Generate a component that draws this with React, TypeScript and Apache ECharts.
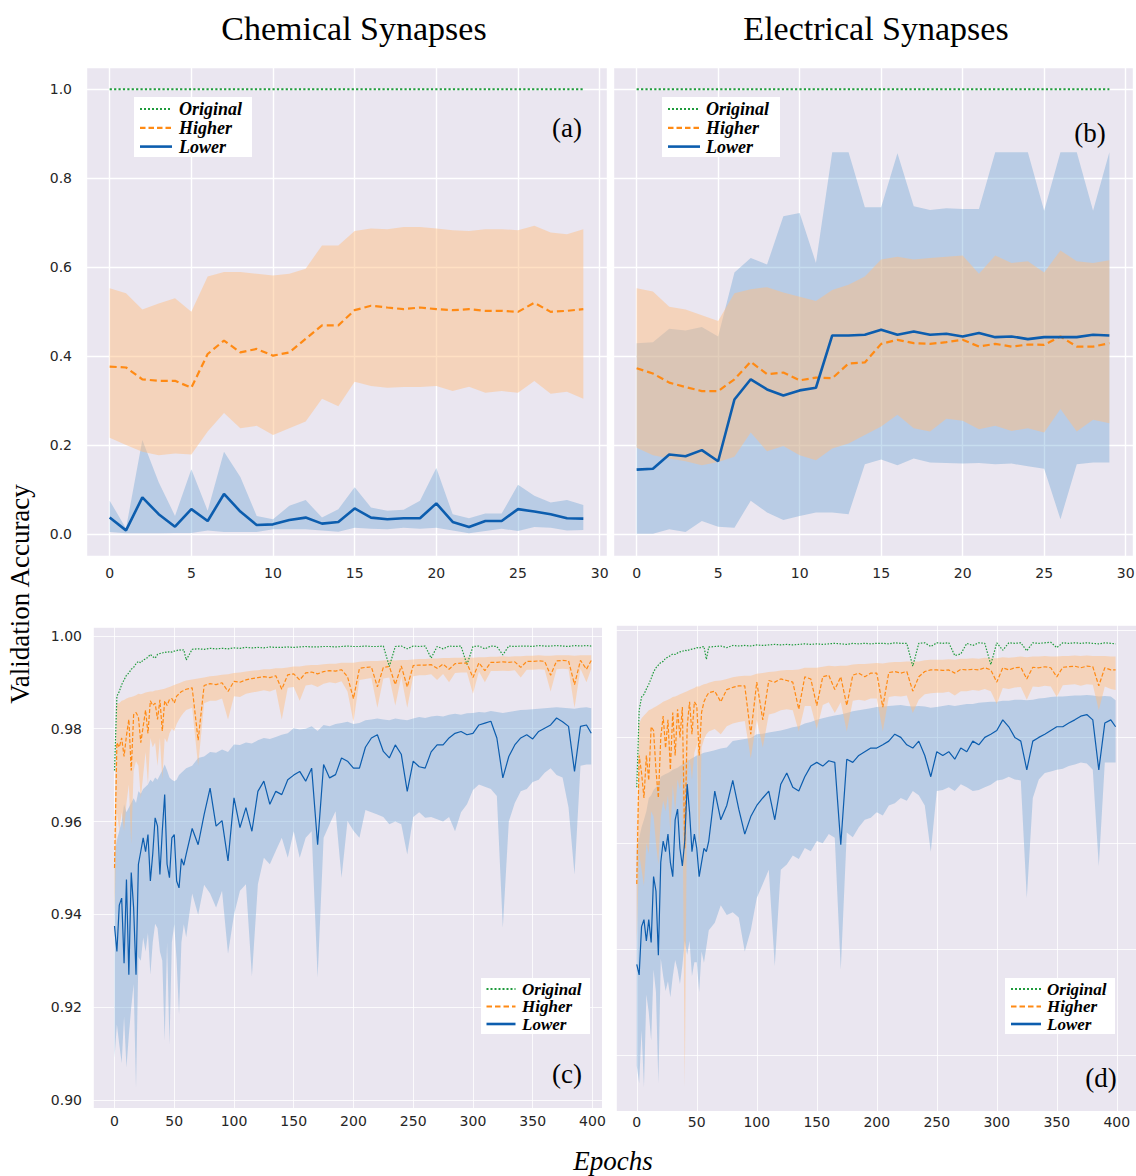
import React, { useEffect, useRef } from "react";
import * as echarts from "echarts";

// ---------- epochs ----------
const EPOCHS_S = [0,1,2,3,4,5,6,7,8,9,10,11,12,13,14,15,16,17,18,19,20,21,22,23,24,25,26,27,28,29];
const EPOCHS_L = [
  0,2,4,6,8,10,12,14,16,18,20,22,24,26,28,30,32,34,36,38,40,42,44,46,48,50,52,54,56,58,60,
  65,70,75,80,85,90,95,100,105,110,115,120,125,130,135,140,145,150,155,160,165,170,175,180,185,190,195,200,
  205,210,215,220,225,230,235,240,245,250,255,260,265,270,275,280,285,290,295,300,305,310,315,320,325,330,335,340,345,350,355,360,365,370,375,380,385,390,395,399,
];

// ---------- (a) Chemical synapses, 30 epochs ----------
const A_ORIG = [1.0,1.0,1.0,1.0,1.0,1.0,1.0,1.0,1.0,1.0,1.0,1.0,1.0,1.0,1.0,1.0,1.0,1.0,1.0,1.0,1.0,1.0,1.0,1.0,1.0,1.0,1.0,1.0,1.0,1.0];
const A_HI = [0.376,0.374,0.3475,0.344,0.344,0.3285,0.4044,0.4347,0.408,0.4158,0.4006,0.408,0.4386,0.4689,0.4689,0.503,0.5129,0.509,0.5053,0.509,0.5053,0.503,0.5053,0.5015,0.5015,0.4992,0.5197,0.4992,0.5015,0.5053];
const A_HI_UP = [0.5524,0.541,0.5046,0.518,0.5296,0.4992,0.579,0.5888,0.5888,0.585,0.581,0.585,0.5964,0.6487,0.6487,0.6813,0.6866,0.685,0.69,0.69,0.6866,0.6829,0.6813,0.685,0.685,0.6829,0.6927,0.6775,0.6737,0.685];
const A_HI_LO = [0.2162,0.1995,0.1844,0.1768,0.1806,0.1783,0.2299,0.2716,0.2375,0.2428,0.2223,0.2375,0.2527,0.3035,0.2868,0.3422,0.3323,0.3285,0.33,0.33,0.3323,0.321,0.3308,0.3171,0.321,0.3171,0.3437,0.3149,0.3194,0.3035];
const A_LO = [0.0364,0.0076,0.0819,0.044,0.0159,0.0554,0.0288,0.0895,0.05,0.0197,0.0212,0.0311,0.0364,0.0228,0.0266,0.0569,0.0364,0.0326,0.0349,0.0349,0.0683,0.0266,0.0152,0.0288,0.0288,0.0554,0.05,0.044,0.0349,0.0341];
const A_LO_UP = [0.0744,0.012,0.2109,0.1161,0.0402,0.1449,0.0516,0.1844,0.1275,0.0402,0.0326,0.063,0.0759,0.0364,0.0554,0.1047,0.0592,0.0516,0.0539,0.0744,0.148,0.044,0.0349,0.0455,0.0455,0.11,0.0857,0.0706,0.0759,0.0645];
const A_LO_LO = [0.004,0.001,0.001,0.001,0.002,0.002,0.0076,0.004,0.004,0.004,0.0099,0.0099,0.0099,0.0076,0.0046,0.0137,0.0114,0.0099,0.0137,0.0114,0.0137,0.0076,0.001,0.0061,0.0114,0.0061,0.0152,0.0137,0.0076,0.0084];

// ---------- (b) Electrical synapses, 30 epochs ----------
const B_ORIG = [1.0,1.0,1.0,1.0,1.0,1.0,1.0,1.0,1.0,1.0,1.0,1.0,1.0,1.0,1.0,1.0,1.0,1.0,1.0,1.0,1.0,1.0,1.0,1.0,1.0,1.0,1.0,1.0,1.0,1.0];
const B_HI = [0.3725,0.3604,0.34,0.33,0.321,0.321,0.3475,0.387,0.3589,0.3627,0.3452,0.3513,0.3498,0.3832,0.3854,0.4272,0.4363,0.4287,0.4272,0.431,0.4363,0.4211,0.4272,0.4211,0.4257,0.425,0.4439,0.4211,0.4211,0.4287];
const B_HI_UP = [0.5524,0.5448,0.5106,0.5046,0.4917,0.4788,0.541,0.5501,0.5546,0.5425,0.5334,0.5235,0.5486,0.56,0.5789,0.6169,0.6229,0.6169,0.6206,0.6229,0.626,0.585,0.626,0.6093,0.613,0.588,0.6373,0.613,0.6093,0.6153];
const B_HI_LO = [0.1935,0.1768,0.1692,0.1631,0.154,0.1616,0.173,0.2276,0.1859,0.1973,0.1768,0.1654,0.192,0.2033,0.2223,0.2413,0.2678,0.2375,0.2299,0.2587,0.2542,0.2352,0.2428,0.2314,0.2375,0.2276,0.2807,0.2299,0.2565,0.2489];
const B_LO = [0.1442,0.1464,0.1783,0.1745,0.1882,0.1631,0.302,0.3475,0.3247,0.3111,0.3225,0.3285,0.4461,0.4461,0.4477,0.459,0.4477,0.4552,0.4477,0.4499,0.4439,0.4515,0.4423,0.4439,0.4378,0.4423,0.4423,0.4423,0.4477,0.4461];
const B_LO_UP = [0.4287,0.431,0.4613,0.4575,0.4651,0.4439,0.588,0.6206,0.6055,0.714,0.7215,0.6093,0.8581,0.8581,0.7345,0.7345,0.8558,0.7367,0.7284,0.7322,0.7307,0.7307,0.8581,0.8581,0.8581,0.7269,0.8581,0.8581,0.7269,0.8581];
const B_LO_LO = [0.0,0.0,0.0099,0.004,0.0288,0.0159,0.0137,0.0744,0.0478,0.0311,0.0402,0.0478,0.0478,0.044,0.1563,0.1669,0.154,0.1692,0.1601,0.1593,0.1578,0.1593,0.1563,0.1578,0.1517,0.1464,0.0326,0.1563,0.1601,0.1601];

// ---------- (c) Chemical synapses, 400 epochs ----------
const C_ORIG = [
  0.971,0.987,0.988,0.9895,0.9905,0.9915,0.992,0.9928,0.9932,0.994,0.9945,0.9942,0.9948,0.995,0.9954,0.996,0.9955,0.9952,0.996,0.9962,0.9963,0.9965,0.9964,0.9966,0.9965,0.9967,0.9968,0.997,0.9969,0.997,0.9948,
  0.9971,0.9972,0.9971,0.9973,0.9972,0.9973,0.9972,0.9974,0.9973,0.9975,0.9974,0.9975,0.9974,0.9976,0.9975,0.9975,0.9976,0.9975,0.9976,0.9977,0.9976,0.9976,0.9977,0.9977,0.9976,0.9977,0.9978,0.9977,
  0.9977,0.9978,0.9977,0.9977,0.9978,0.9934,0.9977,0.9978,0.9972,0.9978,0.9977,0.9978,0.9952,0.9977,0.9972,0.9978,0.9977,0.9978,0.9938,0.9977,0.9978,0.9972,0.9978,0.9977,0.9959,0.9978,0.9977,0.9978,0.9978,0.9977,0.9979,0.9978,0.9978,0.9979,0.9978,0.9977,0.9979,0.9978,0.9979,0.9978,
];
const C_HI = [
  0.950,0.977,0.976,0.978,0.974,0.9785,0.982,0.971,0.983,0.9835,0.9825,0.977,0.9805,0.984,0.979,0.986,0.985,0.9855,0.982,0.9862,0.9795,0.986,0.985,0.9863,0.9865,0.9855,0.987,0.9875,0.988,0.9882,0.9885,
  0.9888,0.9775,0.9893,0.9897,0.9895,0.9899,0.988,0.9902,0.99,0.9905,0.9908,0.991,0.9912,0.991,0.9914,0.9885,0.9916,0.9918,0.9905,0.992,0.9922,0.9918,0.9923,0.9925,0.9924,0.9927,0.9912,0.9865,
  0.993,0.9932,0.9933,0.989,0.9932,0.9934,0.9895,0.9935,0.989,0.9936,0.9937,0.9937,0.9938,0.993,0.9939,0.9928,0.994,0.9941,0.9941,0.991,0.9942,0.9925,0.9943,0.9943,0.9944,0.9943,0.9944,0.9932,0.9945,0.9945,0.9946,0.9945,0.9915,0.9946,0.9947,0.9946,0.9895,0.9947,0.9928,0.9947,
];
const C_HI_UP = [
  0.958,0.9855,0.9855,0.986,0.9862,0.9865,0.9867,0.9868,0.987,0.9872,0.9875,0.9874,0.9876,0.9878,0.9879,0.988,0.988,0.9882,0.9883,0.9884,0.9885,0.9886,0.9888,0.989,0.9892,0.9894,0.9896,0.9898,0.99,0.9902,0.9904,
  0.9906,0.9908,0.991,0.9913,0.9914,0.9916,0.9917,0.992,0.9921,0.9923,0.9925,0.9926,0.9928,0.9928,0.993,0.993,0.9932,0.9934,0.9934,0.9936,0.9937,0.9937,0.9939,0.994,0.994,0.9942,0.9942,0.9942,
  0.9944,0.9945,0.9946,0.9946,0.9947,0.9948,0.9947,0.9948,0.9948,0.9949,0.995,0.995,0.9951,0.9951,0.9952,0.9952,0.9953,0.9953,0.9954,0.9953,0.9954,0.9954,0.9955,0.9955,0.9956,0.9955,0.9956,0.9956,0.9957,0.9957,0.9958,0.9957,0.9957,0.9958,0.9958,0.9958,0.9957,0.9958,0.9958,0.9958,
];
const C_HI_LO = [
  0.94,0.962,0.958,0.962,0.958,0.964,0.968,0.955,0.971,0.973,0.972,0.965,0.97,0.975,0.968,0.978,0.976,0.977,0.972,0.978,0.969,0.978,0.977,0.979,0.98,0.9795,0.981,0.982,0.9828,0.9835,0.984,
  0.9845,0.972,0.9855,0.986,0.986,0.9865,0.982,0.987,0.9868,0.9875,0.9878,0.988,0.9883,0.988,0.9885,0.982,0.9888,0.989,0.986,0.9893,0.9895,0.989,0.9897,0.99,0.9898,0.9902,0.988,0.9815,
  0.9905,0.9907,0.9909,0.9845,0.9908,0.991,0.985,0.9912,0.9845,0.9913,0.9915,0.9915,0.9917,0.9905,0.9918,0.99,0.992,0.9921,0.9921,0.9875,0.9923,0.99,0.9924,0.9924,0.9925,0.9924,0.9926,0.991,0.9927,0.9927,0.9928,0.9927,0.988,0.9928,0.9929,0.9928,0.9845,0.9929,0.99,0.9929,
];
const C_LO = [
  0.9375,0.932,0.942,0.9435,0.9295,0.9475,0.927,0.949,0.9414,0.927,0.9508,0.9536,0.9565,0.9535,0.9572,0.9472,0.953,0.9608,0.959,0.9486,0.958,0.9658,0.9508,0.9479,0.9565,0.9572,0.9472,0.9457,0.952,0.9506,0.953,
  0.9585,0.955,0.9615,0.9672,0.959,0.9602,0.9515,0.9651,0.9587,0.963,0.9579,0.9665,0.9687,0.9637,0.9665,0.9658,0.969,0.97,0.9708,0.9687,0.9715,0.955,0.9723,0.9694,0.9701,0.9737,0.973,0.9715,
  0.9715,0.976,0.978,0.9787,0.9751,0.9737,0.9765,0.9745,0.9665,0.973,0.9718,0.9715,0.975,0.9765,0.9765,0.978,0.979,0.9794,0.9787,0.979,0.9808,0.9812,0.9816,0.978,0.9694,0.974,0.9765,0.978,0.9787,0.9778,0.9794,0.9801,0.9808,0.9823,0.9815,0.9805,0.9708,0.9805,0.9808,0.979,
];
const C_LO_UP = [
  0.953,0.956,0.958,0.96,0.9637,0.962,0.963,0.964,0.965,0.964,0.9665,0.966,0.967,0.9675,0.968,0.969,0.9685,0.9695,0.969,0.97,0.971,0.9723,0.971,0.9695,0.969,0.9687,0.969,0.97,0.9705,0.971,0.9715,
  0.972,0.9737,0.974,0.975,0.9748,0.9755,0.975,0.9766,0.9765,0.977,0.9768,0.9775,0.978,0.9778,0.9782,0.9787,0.979,0.9801,0.9798,0.98,0.9805,0.9795,0.9808,0.9805,0.981,0.9812,0.9815,0.981,
  0.9812,0.9818,0.982,0.9822,0.982,0.9818,0.9822,0.982,0.9818,0.9822,0.9825,0.9823,0.9826,0.9828,0.9826,0.983,0.9832,0.983,0.9833,0.9834,0.9836,0.9835,0.9838,0.9836,0.9834,0.9836,0.9838,0.984,0.9841,0.9842,0.9843,0.9844,0.9845,0.9846,0.9845,0.9844,0.9843,0.9845,0.9846,0.9844,
];
const C_LO_LO = [
  0.9092,0.9163,0.912,0.908,0.918,0.907,0.914,0.92,0.925,0.9027,0.9308,0.93,0.935,0.932,0.936,0.927,0.934,0.938,0.937,0.932,0.93,0.9128,0.934,0.912,0.934,0.9379,0.93,0.9185,0.934,0.9379,0.9351,
  0.9445,0.9399,0.9464,0.9445,0.9415,0.9451,0.9315,0.9399,0.9451,0.9465,0.9267,0.9465,0.9522,0.9508,0.9537,0.9565,0.9522,0.9579,0.9522,0.9565,0.9579,0.9264,0.9565,0.9594,0.9622,0.9479,0.9601,0.958,
  0.9565,0.9625,0.962,0.9615,0.961,0.9594,0.96,0.9594,0.9529,0.961,0.962,0.9608,0.961,0.9605,0.96,0.961,0.9579,0.962,0.9637,0.9668,0.968,0.9675,0.967,0.9655,0.9371,0.96,0.964,0.9665,0.967,0.9685,0.969,0.9705,0.9715,0.970,0.9695,0.963,0.9486,0.972,0.9723,0.9723,
];

// ---------- (d) Electrical synapses, 400 epochs ----------
const D_ORIG = [
  0.9705,0.985,0.9875,0.988,0.989,0.9899,0.991,0.9922,0.993,0.9935,0.994,0.9942,0.9948,0.995,0.9953,0.9956,0.9955,0.9958,0.996,0.9961,0.9963,0.9962,0.9964,0.9965,0.9966,0.9968,0.9967,0.9969,0.997,0.9946,0.9969,
  0.997,0.9971,0.9968,0.9972,0.9971,0.9972,0.9971,0.9973,0.9972,0.9973,0.9974,0.9973,0.9974,0.9973,0.9974,0.9975,0.9974,0.9975,0.9974,0.9975,0.9976,0.9975,0.9974,0.9976,0.9975,0.9976,0.9975,0.9976,
  0.9976,0.9975,0.9977,0.9976,0.9976,0.9933,0.9976,0.9977,0.997,0.9977,0.9976,0.9977,0.9953,0.9956,0.9976,0.9972,0.9977,0.9976,0.9936,0.9977,0.9963,0.9977,0.9976,0.9977,0.9962,0.9977,0.9976,0.9977,0.9978,0.9968,0.9977,0.9976,0.9977,0.9976,0.9977,0.9976,0.9975,0.9977,0.9976,0.9975,
];
const D_HI = [
  0.9523,0.9765,0.9732,0.9685,0.9765,0.9718,0.9819,0.9812,0.9738,0.9685,0.9799,0.9839,0.9779,0.9832,0.9738,0.9846,0.9765,0.9852,0.9799,0.9856,0.959,0.9819,0.9866,0.9805,0.9866,0.9859,0.9765,0.9846,0.9866,0.9876,0.9883,
  0.9886,0.9866,0.9889,0.9893,0.9896,0.9896,0.9805,0.9903,0.9832,0.9906,0.9903,0.9909,0.9906,0.9903,0.9852,0.9913,0.9909,0.9859,0.9913,0.9916,0.9889,0.9913,0.9859,0.9916,0.992,0.9913,0.992,0.992,
  0.9856,0.9921,0.9923,0.992,0.9923,0.9886,0.9913,0.9923,0.9926,0.9926,0.9925,0.9926,0.992,0.9927,0.9926,0.9927,0.9926,0.993,0.9926,0.9903,0.993,0.9926,0.993,0.9931,0.9909,0.9931,0.993,0.9932,0.993,0.9913,0.9931,0.9932,0.9933,0.993,0.9933,0.9932,0.9896,0.993,0.9926,0.9926,
];
const D_HI_UP = [
  0.962,0.9825,0.9835,0.984,0.9845,0.985,0.9852,0.9855,0.9857,0.986,0.9863,0.9866,0.9868,0.987,0.9872,0.9875,0.9876,0.9878,0.988,0.9882,0.9884,0.9886,0.9888,0.989,0.9892,0.9895,0.9895,0.9897,0.9899,0.99,0.9902,
  0.9905,0.9906,0.9909,0.9912,0.9914,0.9915,0.9915,0.9919,0.992,0.9922,0.9923,0.9925,0.9926,0.9926,0.9927,0.993,0.993,0.993,0.9932,0.9934,0.9933,0.9934,0.9934,0.9936,0.9937,0.9937,0.9938,0.9939,
  0.9938,0.994,0.9941,0.9941,0.9942,0.9942,0.9942,0.9944,0.9945,0.9945,0.9945,0.9946,0.9945,0.9947,0.9947,0.9948,0.9947,0.9949,0.9948,0.9948,0.995,0.9949,0.995,0.9951,0.995,0.9951,0.9951,0.9952,0.9951,0.9951,0.9952,0.9952,0.9953,0.9952,0.9953,0.9952,0.9952,0.9952,0.9951,0.9951,
];
const D_HI_LO = [
  0.9416,0.958,0.955,0.952,0.96,0.958,0.966,0.965,0.96,0.956,0.965,0.968,0.966,0.969,0.962,0.971,0.966,0.972,0.97,0.973,0.914,0.972,0.976,0.972,0.977,0.9785,0.958,0.978,0.9795,0.9805,0.981,
  0.9815,0.9805,0.982,0.9825,0.9828,0.983,0.976,0.9832,0.978,0.9842,0.9845,0.985,0.9852,0.985,0.981,0.9858,0.9858,0.9815,0.986,0.9865,0.9845,0.9865,0.981,0.9868,0.987,0.9868,0.9872,0.9872,
  0.981,0.9875,0.9877,0.9876,0.9878,0.9845,0.987,0.988,0.9882,0.9883,0.9883,0.9885,0.9878,0.9886,0.9886,0.9888,0.9887,0.989,0.9886,0.9862,0.9892,0.989,0.9893,0.9894,0.987,0.9895,0.9894,0.9896,0.9895,0.9875,0.9897,0.9898,0.9899,0.9896,0.9899,0.9898,0.985,0.9895,0.989,0.9888,
];
const D_LO = [
  0.9372,0.9352,0.9443,0.9456,0.9416,0.9456,0.9413,0.9537,0.951,0.9389,0.9564,0.9604,0.9584,0.9617,0.9564,0.9537,0.9644,0.9664,0.959,0.9557,0.9604,0.9711,0.9658,0.9584,0.9617,0.959,0.9537,0.9564,0.959,0.9584,0.9604,
  0.9698,0.9644,0.9671,0.9718,0.9664,0.9617,0.965,0.9671,0.9685,0.9698,0.9644,0.9711,0.9732,0.9705,0.9698,0.9725,0.9745,0.9752,0.9745,0.9755,0.9752,0.9597,0.9758,0.9752,0.9765,0.9772,0.9779,0.9779,
  0.9785,0.9792,0.9805,0.9799,0.9785,0.9779,0.9792,0.9765,0.9725,0.9772,0.9765,0.9772,0.9758,0.9779,0.9772,0.9792,0.9785,0.9799,0.9805,0.9812,0.9832,0.9819,0.9799,0.9792,0.9738,0.9792,0.9799,0.9805,0.9812,0.9819,0.9819,0.9826,0.9832,0.9839,0.9842,0.9832,0.9738,0.9826,0.9832,0.9819,
];
const D_LO_UP = [
  0.959,0.961,0.963,0.9644,0.966,0.9685,0.969,0.970,0.9705,0.971,0.9725,0.9728,0.973,0.9732,0.9735,0.9738,0.974,0.9742,0.9745,0.9748,0.9752,0.9755,0.9757,0.976,0.9762,0.9765,0.9766,0.9768,0.977,0.9771,0.9772,
  0.9775,0.9778,0.978,0.9792,0.9794,0.9796,0.9798,0.9805,0.9806,0.9808,0.981,0.9812,0.9815,0.9818,0.982,0.9825,0.9828,0.9832,0.9835,0.9838,0.984,0.9842,0.9845,0.9848,0.985,0.9852,0.9854,0.9856,
  0.9857,0.9858,0.9859,0.986,0.9858,0.9857,0.9858,0.9857,0.9855,0.9856,0.9858,0.986,0.9858,0.986,0.9862,0.9862,0.9864,0.9865,0.9866,0.9866,0.9868,0.9868,0.987,0.987,0.9869,0.987,0.9872,0.9873,0.9875,0.9876,0.9876,0.9877,0.9878,0.9878,0.9879,0.9878,0.9876,0.9877,0.9876,0.9869,
];
const D_LO_LO = [
  0.9181,0.9148,0.9248,0.9141,0.9315,0.9282,0.9228,0.9362,0.932,0.9148,0.9383,0.935,0.9322,0.934,0.931,0.9349,0.938,0.9362,0.9335,0.937,0.9416,0.939,0.9416,0.935,0.9376,0.9376,0.932,0.9396,0.9375,0.9405,0.9436,
  0.945,0.9483,0.9465,0.947,0.946,0.9396,0.9436,0.9497,0.9523,0.955,0.9369,0.955,0.956,0.9577,0.957,0.9591,0.9585,0.9604,0.96,0.9617,0.961,0.9362,0.962,0.9611,0.963,0.9644,0.9648,0.9658,
  0.9652,0.9671,0.9675,0.9685,0.968,0.9698,0.969,0.9671,0.9584,0.9698,0.97,0.9705,0.9698,0.9711,0.9705,0.9698,0.97,0.9705,0.971,0.9718,0.972,0.9725,0.972,0.9718,0.9497,0.9685,0.972,0.9732,0.9735,0.9738,0.974,0.9745,0.9748,0.9752,0.975,0.9738,0.9557,0.9752,0.9752,0.9752,
];

const LEGEND_NAMES = ["Original", "Higher", "Lower"];
const COLUMN_TITLES = ["Chemical Synapses", "Electrical Synapses"];
const PANEL_TAGS = ["(a)", "(b)", "(c)", "(d)"];

// ---------- styles ----------
const C_GREEN = "#1f9b3c";
const C_ORANGE = "#ff8a14";
const C_BLUE = "#0c5dae";
const FILL_ORANGE = "rgba(255,190,130,0.48)";
const FILL_BLUE = "rgba(80,150,205,0.32)";
const BG = "#EAE6F0";
const TICK_FONT = '"DejaVu Sans", sans-serif';
const SERIF = '"Liberation Serif", "Times New Roman", serif';

const STY = {
  origTop: { color: C_GREEN, width: 2.2, type: [2.2, 2.2] },
  hiTop: { color: C_ORANGE, width: 2.2, type: [7, 4] },
  loTop: { color: C_BLUE, width: 2.6, type: "solid" },
  origBot: { color: C_GREEN, width: 1.2, type: [1.5, 1.5] },
  hiBot: { color: C_ORANGE, width: 1.2, type: [4, 2] },
  loBot: { color: C_BLUE, width: 1.2, type: "solid" },
};

function pts(xs: number[], ys: number[]) {
  const n = Math.min(xs.length, ys.length);
  const out: number[][] = [];
  for (let i = 0; i < n; i++) out.push([xs[i], ys[i]]);
  return out;
}

function band(gi: number, xs: number[], lo: number[], hi: number[], fill: string) {
  const n = Math.min(xs.length, lo.length, hi.length);
  return {
    type: "custom",
    xAxisIndex: gi,
    yAxisIndex: gi,
    silent: true,
    clip: true,
    z: 1,
    data: [[xs[0], lo[0]]],
    renderItem: (_params: any, api: any) => {
      const points: number[][] = [];
      for (let i = 0; i < n; i++) points.push(api.coord([xs[i], hi[i]]));
      for (let i = n - 1; i >= 0; i--) points.push(api.coord([xs[i], lo[i]]));
      return { type: "polygon", shape: { points }, style: { fill, stroke: null } };
    },
  };
}

function line(name: string, gi: number, xs: number[], ys: number[], s: any) {
  return {
    type: "line",
    name,
    xAxisIndex: gi,
    yAxisIndex: gi,
    data: pts(xs, ys),
    symbol: "none",
    showSymbol: false,
    silent: true,
    clip: true,
    z: 3,
    itemStyle: { color: s.color },
    lineStyle: { color: s.color, width: s.width, type: s.type },
    emphasis: { disabled: true },
  };
}

function fmtMultiple(step: number, digits: number) {
  return (v: number) => {
    const r = v / step;
    return Math.abs(r - Math.round(r)) < 1e-6 ? (digits > 0 ? v.toFixed(digits) : String(Math.round(v))) : "";
  };
}

function xAxis(gi: number, min: number, max: number, splitNumber: number, step: number, margin: number, gw: number, gc: string) {
  return {
    type: "value",
    gridIndex: gi,
    min,
    max,
    splitNumber,
    axisLine: { show: false },
    axisTick: { show: false },
    axisLabel: { color: "#262626", fontFamily: TICK_FONT, fontSize: 14, margin, formatter: fmtMultiple(step, 0) },
    splitLine: { show: true, lineStyle: { color: gc, width: gw } },
  };
}

function yAxis(gi: number, min: number, max: number, step: number, digits: number, showLabel: boolean, margin: number, gw: number, gc: string) {
  return {
    type: "value",
    gridIndex: gi,
    min,
    max,
    splitNumber: 5,
    axisLine: { show: false },
    axisTick: { show: false },
    axisLabel: {
      show: showLabel,
      color: "#262626",
      fontFamily: TICK_FONT,
      fontSize: 14,
      margin,
      formatter: fmtMultiple(step, digits),
    },
    splitLine: { show: true, lineStyle: { color: gc, width: gw } },
  };
}

// legend box drawn as graphic (non-data decoration)
function legendBox(x: number, y: number, w: number, h: number, rows: number[], lx0: number, lx1: number, tx: number, fs: number) {
  const styles = [STY.origTop, STY.hiTop, STY.loTop];
  const children: any[] = [
    { type: "rect", shape: { x, y, width: w, height: h }, style: { fill: "#ffffff" }, z: 50, silent: true },
  ];
  LEGEND_NAMES.forEach((name, i) => {
    const s: any = styles[i];
    const dash = i === 0 ? [2, 2] : i === 1 ? [5.5, 3] : null;
    children.push({
      type: "line",
      shape: { x1: lx0, y1: rows[i], x2: lx1, y2: rows[i] },
      style: { stroke: s.color, lineWidth: i === 2 ? 2.6 : 2.2, lineDash: dash },
      z: 51,
      silent: true,
    });
    children.push({
      type: "text",
      x: tx,
      y: rows[i],
      z: 51,
      silent: true,
      style: {
        text: name,
        fontSize: fs,
        fontFamily: SERIF,
        fontWeight: "bold",
        fontStyle: "italic",
        fill: "#000",
        align: "left",
        verticalAlign: "middle",
      },
    });
  });
  return children;
}

function text(t: string, x: number, y: number, size: number, extra: any = {}) {
  return {
    type: "text",
    x,
    y,
    z: 100,
    silent: true,
    rotation: extra.rotation || 0,
    style: {
      text: t,
      fontSize: size,
      fontFamily: SERIF,
      fontStyle: extra.italic ? "italic" : "normal",
      fill: "#000",
      align: "center",
      verticalAlign: "middle",
    },
  };
}

export default function App() {
  const ref = useRef<HTMLDivElement>(null);
  useEffect(() => {
    if (!ref.current) return;
    const chart = echarts.init(ref.current, null, { renderer: "svg" });
    const gridBase = { show: true, backgroundColor: BG, borderWidth: 0, containLabel: false, outerBoundsMode: "none" };
    const WHITE_T = "#ffffff";
    const WHITE_B = "rgba(255,255,255,0.8)";
    const option: any = {
      animation: false,
      backgroundColor: "#ffffff",
      grid: [
        { ...gridBase, left: 86, top: 67, width: 521, height: 489 },
        { ...gridBase, left: 613, top: 67, width: 520, height: 489 },
        { ...gridBase, left: 93, top: 627, width: 509, height: 481 },
        { ...gridBase, left: 616, top: 625, width: 520, height: 486 },
      ],
      xAxis: [
        xAxis(0, -1.45, 30.45, 6, 5, 10, 1.4, WHITE_T),
        xAxis(1, -1.45, 30.45, 6, 5, 10, 1.4, WHITE_T),
        xAxis(2, -18, 408, 8, 50, 6, 1, WHITE_B),
        xAxis(3, -17.3, 416, 8, 50, 4, 1, WHITE_B),
      ],
      yAxis: [
        yAxis(0, -0.05, 1.05, 0.2, 1, true, 14, 1.4, WHITE_T),
        yAxis(1, -0.05, 1.05, 0.2, 1, false, 14, 1.4, WHITE_T),
        yAxis(2, 0.8983, 1.0019, 0.02, 2, true, 11, 1, WHITE_B),
        yAxis(3, 0.9096, 1.00105, 0.02, 2, false, 11, 1, WHITE_B),
      ],
      series: [
        // (a)
        band(0, EPOCHS_S, A_LO_LO, A_LO_UP, FILL_BLUE),
        band(0, EPOCHS_S, A_HI_LO, A_HI_UP, FILL_ORANGE),
        line(LEGEND_NAMES[0], 0, EPOCHS_S, A_ORIG, STY.origTop),
        line(LEGEND_NAMES[1], 0, EPOCHS_S, A_HI, STY.hiTop),
        line(LEGEND_NAMES[2], 0, EPOCHS_S, A_LO, STY.loTop),
        // (b)
        band(1, EPOCHS_S, B_LO_LO, B_LO_UP, FILL_BLUE),
        band(1, EPOCHS_S, B_HI_LO, B_HI_UP, FILL_ORANGE),
        line(LEGEND_NAMES[0], 1, EPOCHS_S, B_ORIG, STY.origTop),
        line(LEGEND_NAMES[1], 1, EPOCHS_S, B_HI, STY.hiTop),
        line(LEGEND_NAMES[2], 1, EPOCHS_S, B_LO, STY.loTop),
        // (c)
        band(2, EPOCHS_L, C_LO_LO, C_LO_UP, FILL_BLUE),
        band(2, EPOCHS_L, C_HI_LO, C_HI_UP, FILL_ORANGE),
        line(LEGEND_NAMES[0], 2, EPOCHS_L, C_ORIG, STY.origBot),
        line(LEGEND_NAMES[1], 2, EPOCHS_L, C_HI, STY.hiBot),
        line(LEGEND_NAMES[2], 2, EPOCHS_L, C_LO, STY.loBot),
        // (d)
        band(3, EPOCHS_L, D_LO_LO, D_LO_UP, FILL_BLUE),
        band(3, EPOCHS_L, D_HI_LO, D_HI_UP, FILL_ORANGE),
        line(LEGEND_NAMES[0], 3, EPOCHS_L, D_ORIG, STY.origBot),
        line(LEGEND_NAMES[1], 3, EPOCHS_L, D_HI, STY.hiBot),
        line(LEGEND_NAMES[2], 3, EPOCHS_L, D_LO, STY.loBot),
      ],
      graphic: {
        elements: [
          text(COLUMN_TITLES[0], 354, 28, 34),
          text(COLUMN_TITLES[1], 876, 28, 34),
          text("Validation Accuracy", 20, 594, 27, { rotation: Math.PI / 2 }),
          text("Epochs", 613, 1161, 27, { italic: true }),
          text(PANEL_TAGS[0], 567, 128, 27),
          text(PANEL_TAGS[1], 1090, 133, 27),
          text(PANEL_TAGS[2], 567, 1074, 27),
          text(PANEL_TAGS[3], 1101, 1078, 27),
          ...legendBox(134, 97, 118, 60, [109, 127.8, 146.6], 140, 172, 179, 18),
          ...legendBox(662, 97, 118, 60, [109, 127.8, 146.6], 668, 700, 706, 18),
          ...legendBox(481, 978, 109, 56, [989, 1006.5, 1024], 486.5, 515.5, 522, 17),
          ...legendBox(1005, 978, 110, 56, [989, 1006.5, 1024], 1011, 1041, 1047, 17),
        ],
      },
    };
    chart.setOption(option);
    return () => chart.dispose();
  }, []);
  return (
    <div
      ref={ref}
      style={{ position: "absolute", left: 0, top: 0, width: 1136, height: 1176, background: "#fff" }}
    />
  );
}
